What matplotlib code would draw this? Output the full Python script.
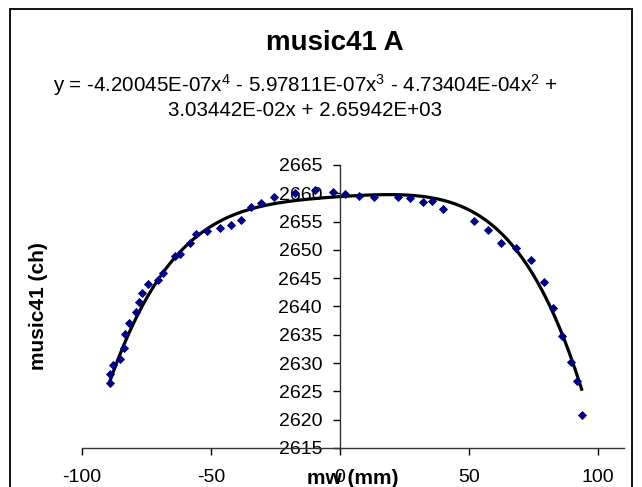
import numpy as np
import matplotlib
matplotlib.use('Agg')
import matplotlib.pyplot as plt
from matplotlib.patches import Rectangle

plt.rcParams['font.family'] = ['Liberation Sans', 'DejaVu Sans']
plt.rcParams['axes.unicode_minus'] = False
plt.rcParams['mathtext.fontset'] = 'custom'
plt.rcParams['mathtext.rm'] = 'Liberation Sans'
plt.rcParams['mathtext.it'] = 'Liberation Sans:italic'
plt.rcParams['mathtext.bf'] = 'Liberation Sans:bold'

# measured points, mw (mm) vs music41 (ch)
mw = [-89.3, -89.0, -88.0, -85.2, -83.8, -83.2, -81.9, -79.0, -77.9, -76.6,
      -74.4, -70.6, -68.6, -64.1, -61.9, -58.3, -55.7, -51.7, -46.6, -42.1,
      -38.2, -34.7, -30.8, -25.6, -17.5, -9.7, -2.6, 1.9, 7.5, 13.2,
      22.6, 27.2, 32.3, 35.6, 39.9, 51.8, 57.4, 62.5, 68.3, 74.1,
      78.9, 82.4, 86.1, 89.3, 91.9, 93.6]
ch = [2626.4, 2628.1, 2629.7, 2630.8, 2632.6, 2635.1, 2637.1, 2639.1, 2640.8, 2642.3,
      2643.9, 2644.7, 2646.0, 2648.9, 2649.3, 2651.2, 2652.8, 2653.3, 2653.8, 2654.4,
      2655.2, 2657.5, 2658.2, 2659.3, 2660.0, 2660.5, 2660.3, 2659.8, 2659.5, 2659.4,
      2659.4, 2659.1, 2658.5, 2658.7, 2657.2, 2655.1, 2653.5, 2651.2, 2650.4, 2648.3,
      2644.3, 2639.7, 2634.8, 2630.2, 2626.8, 2620.8]

# trendline coefficients (highest power first), as printed on the chart
coef = [-4.20045E-07, -5.97811E-07, -4.73404E-04, 3.03442E-02, 2.65942E+03]

x_ticks = [-100, -50, 0, 50, 100]
y_ticks = list(range(2615, 2666, 5))

fig = plt.figure(figsize=(6.42, 4.87), dpi=100)
ax = fig.add_axes([0.1277, 0.0801, 0.8442, 0.5811])

xs = np.linspace(min(mw), max(mw), 200)
ax.plot(xs, np.polyval(coef, xs), color='black', lw=2.3, zorder=2)
ax.plot(mw, ch, linestyle='none', marker='D', markersize=4.4,
        markeredgewidth=0.6, color='#000080', zorder=3)

ax.set_xlim(-100, 110)
ax.set_ylim(2615, 2665)
ax.set_xticks(x_ticks)
ax.set_yticks(y_ticks)

ax.spines['top'].set_visible(False)
ax.spines['right'].set_visible(False)
ax.spines['left'].set_position(('data', 0))
for s in ('left', 'bottom'):
    ax.spines[s].set_linewidth(1.0)
    ax.spines[s].set_color('#333333')
ax.tick_params(axis='y', direction='out', length=5, width=1, pad=8, labelsize=14)
ax.tick_params(axis='x', direction='out', length=5, width=1, pad=10, labelsize=14)

ax.set_xlabel('mw (mm)', fontsize=15, fontweight='bold')
ax.xaxis.set_label_coords(0.5, -0.075)
fig.text(38 / 642, 1 - 306 / 487, 'music41 (ch)', rotation=90, fontsize=15,
         fontweight='bold', ha='center', va='center')

fig.text(335 / 642, 1 - 43 / 487, 'music41 A', fontsize=20, fontweight='bold',
         ha='center', va='center')
eq = ('y = -4.20045E-07x$^{4}$ - 5.97811E-07x$^{3}$ - 4.73404E-04x$^{2}$ +\n'
      '3.03442E-02x + 2.65942E+03')
fig.text(305 / 642, 1 - 96 / 487, eq, fontsize=14.8, ha='center', va='center',
         multialignment='center', linespacing=1.15)

# chart border
fig.patches.append(Rectangle((10 / 642, -0.05), 622 / 642, 1.05 - 9 / 487,
                             transform=fig.transFigure, fill=False,
                             edgecolor='black', lw=1.3))

fig.savefig('out.png', dpi=100)
